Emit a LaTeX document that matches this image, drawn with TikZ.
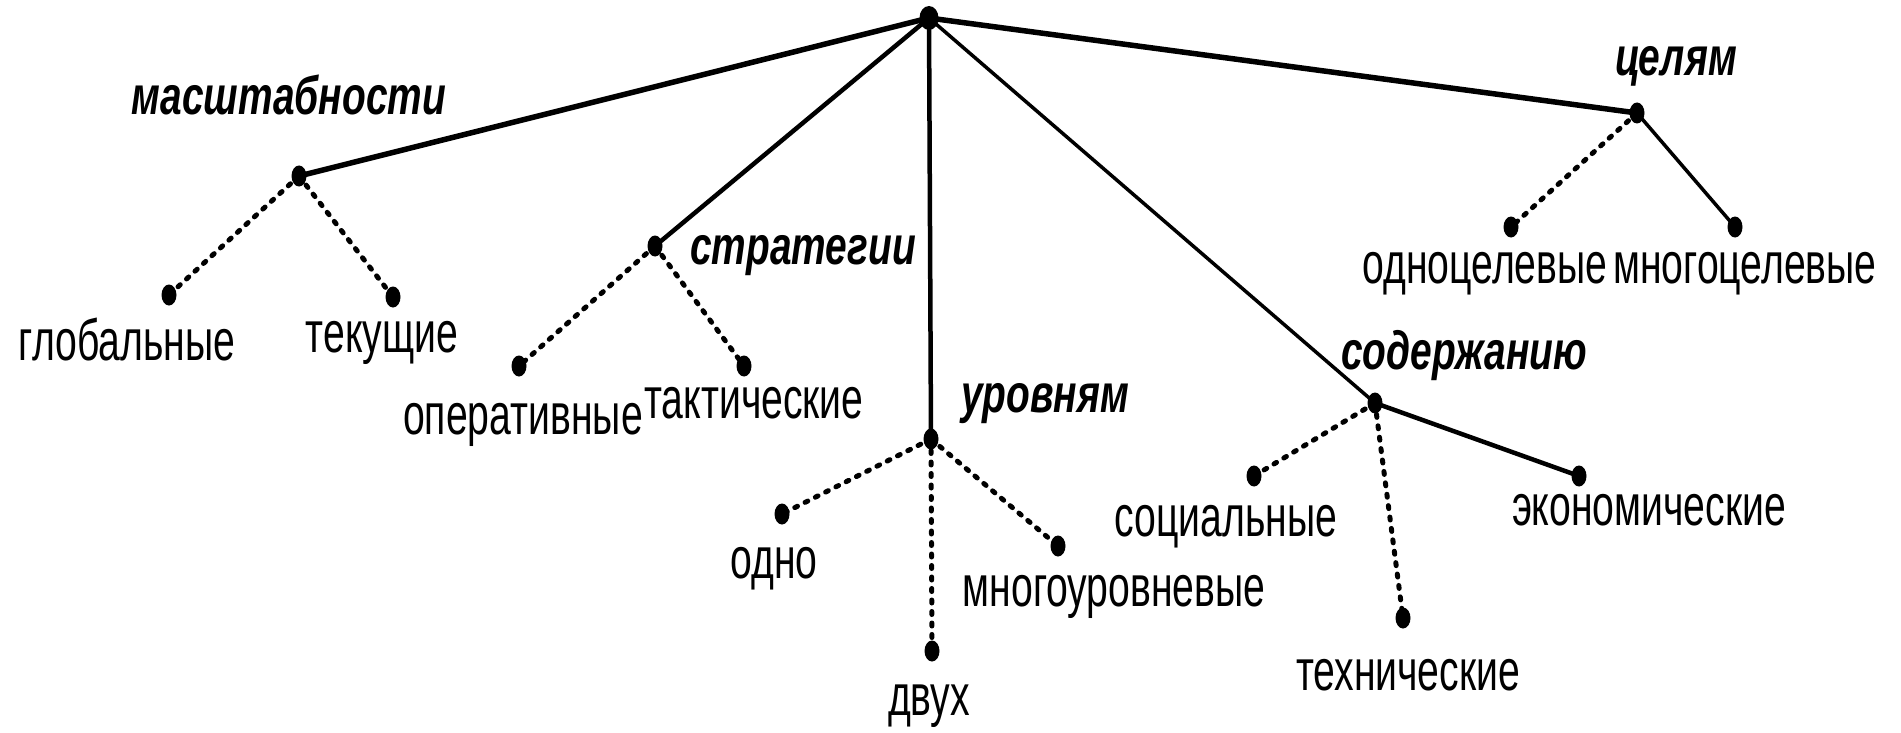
\documentclass[tikz,border=0pt]{standalone}
\usepackage{fontspec}
\setmainfont{Liberation Sans}
\newfontfamily\leaffont[FakeStretch=0.675]{Liberation Sans}
\newfontfamily\catfont[FakeStretch=0.72]{Liberation Sans}
\usetikzlibrary{shapes.geometric}
\begin{document}
\begin{tikzpicture}[x=1pt,y=-1pt,
  dotnode/.style={ellipse,fill=black,inner sep=0pt,minimum width=15pt,minimum height=21pt},
  rootdot/.style={ellipse,fill=black,inner sep=0pt,minimum width=19pt,minimum height=24pt},
  thickline/.style={line width=5.5pt},
  midline/.style={line width=4.5pt},
  thinline/.style={line width=3.5pt},
  dotline/.style={line width=5pt,line cap=round,dash pattern=on 3pt off 8.5pt},
  leaf/.style={anchor=base,inner sep=0pt,font=\leaffont\fontsize{58}{66}\selectfont},
  cat/.style={anchor=base,inner sep=0pt,font=\catfont\fontsize{54}{62}\selectfont\bfseries\itshape}]
\useasboundingbox (0,0) rectangle (1901,733);
% positions
\coordinate (r) at (929,18);
\coordinate (m) at (299,176);
\coordinate (m1) at (169,295);
\coordinate (m2) at (393,297);
\coordinate (s) at (655,246);
\coordinate (s1) at (519,366);
\coordinate (s2) at (744,366);
\coordinate (u) at (931,439);
\coordinate (u1) at (782,514);
\coordinate (u2) at (932,651);
\coordinate (u3) at (1058,546);
\coordinate (c) at (1375,403);
\coordinate (c1) at (1254,476);
\coordinate (c2) at (1403,618);
\coordinate (c3) at (1579,476);
\coordinate (g) at (1637,113);
\coordinate (g1) at (1511,227);
\coordinate (g2) at (1735,227);
% connectors
\draw[thickline] (r) -- (m);
\draw[thickline] (r) -- (g);
\draw[midline] (r) -- (s);
\draw[midline] (r) -- (u);
\draw[thinline] (r) -- (c);
\draw[dotline] (m) -- (m1);
\draw[dotline] (m) -- (m2);
\draw[dotline] (s) -- (s1);
\draw[dotline] (s) -- (s2);
\draw[dotline] (u) -- (u1);
\draw[dotline] (u) -- (u2);
\draw[dotline] (u) -- (u3);
\draw[dotline] (c) -- (c1);
\draw[dotline] (c) -- (c2);
\draw[midline] (c) -- (c3);
\draw[dotline] (g) -- (g1);
\draw[thinline] (g) -- (g2);
% dots
\node[rootdot] at (r) {};
\foreach \p in {m,m1,m2,s,s1,s2,u,u1,u2,u3,c,c1,c2,c3,g,g1,g2}
  \node[dotnode] at (\p) {};
% labels
\node[cat] (lm) at (289,115) {масштабности};
\node[cat] (ls) at (803,264) {стратегии};
\node[cat] (lu) at (1045,412) {уровням};
\node[cat] (lc) at (1464,369) {содержанию};
\node[cat] (lg) at (1676,76) {целям};
\node[leaf] (tm1) at (127,360) {глобальные};
\node[leaf] (tm2) at (382,352) {текущие};
\node[leaf] (ts1) at (523,434) {оперативные};
\node[leaf] (ts2) at (754,418) {тактические};
\node[leaf] (tu1) at (774,578) {одно};
\node[leaf] (tu2) at (929,715) {двух};
\node[leaf] (tu3) at (1114,606) {многоуровневые};
\node[leaf] (tc1) at (1226,536) {социальные};
\node[leaf] (tc2) at (1408,690) {технические};
\node[leaf] (tc3) at (1649,525) {экономические};
\node[leaf] (tg1) at (1485,283) {одноцелевые};
\node[leaf] (tg2) at (1745,283) {многоцелевые};
\end{tikzpicture}
\end{document}
